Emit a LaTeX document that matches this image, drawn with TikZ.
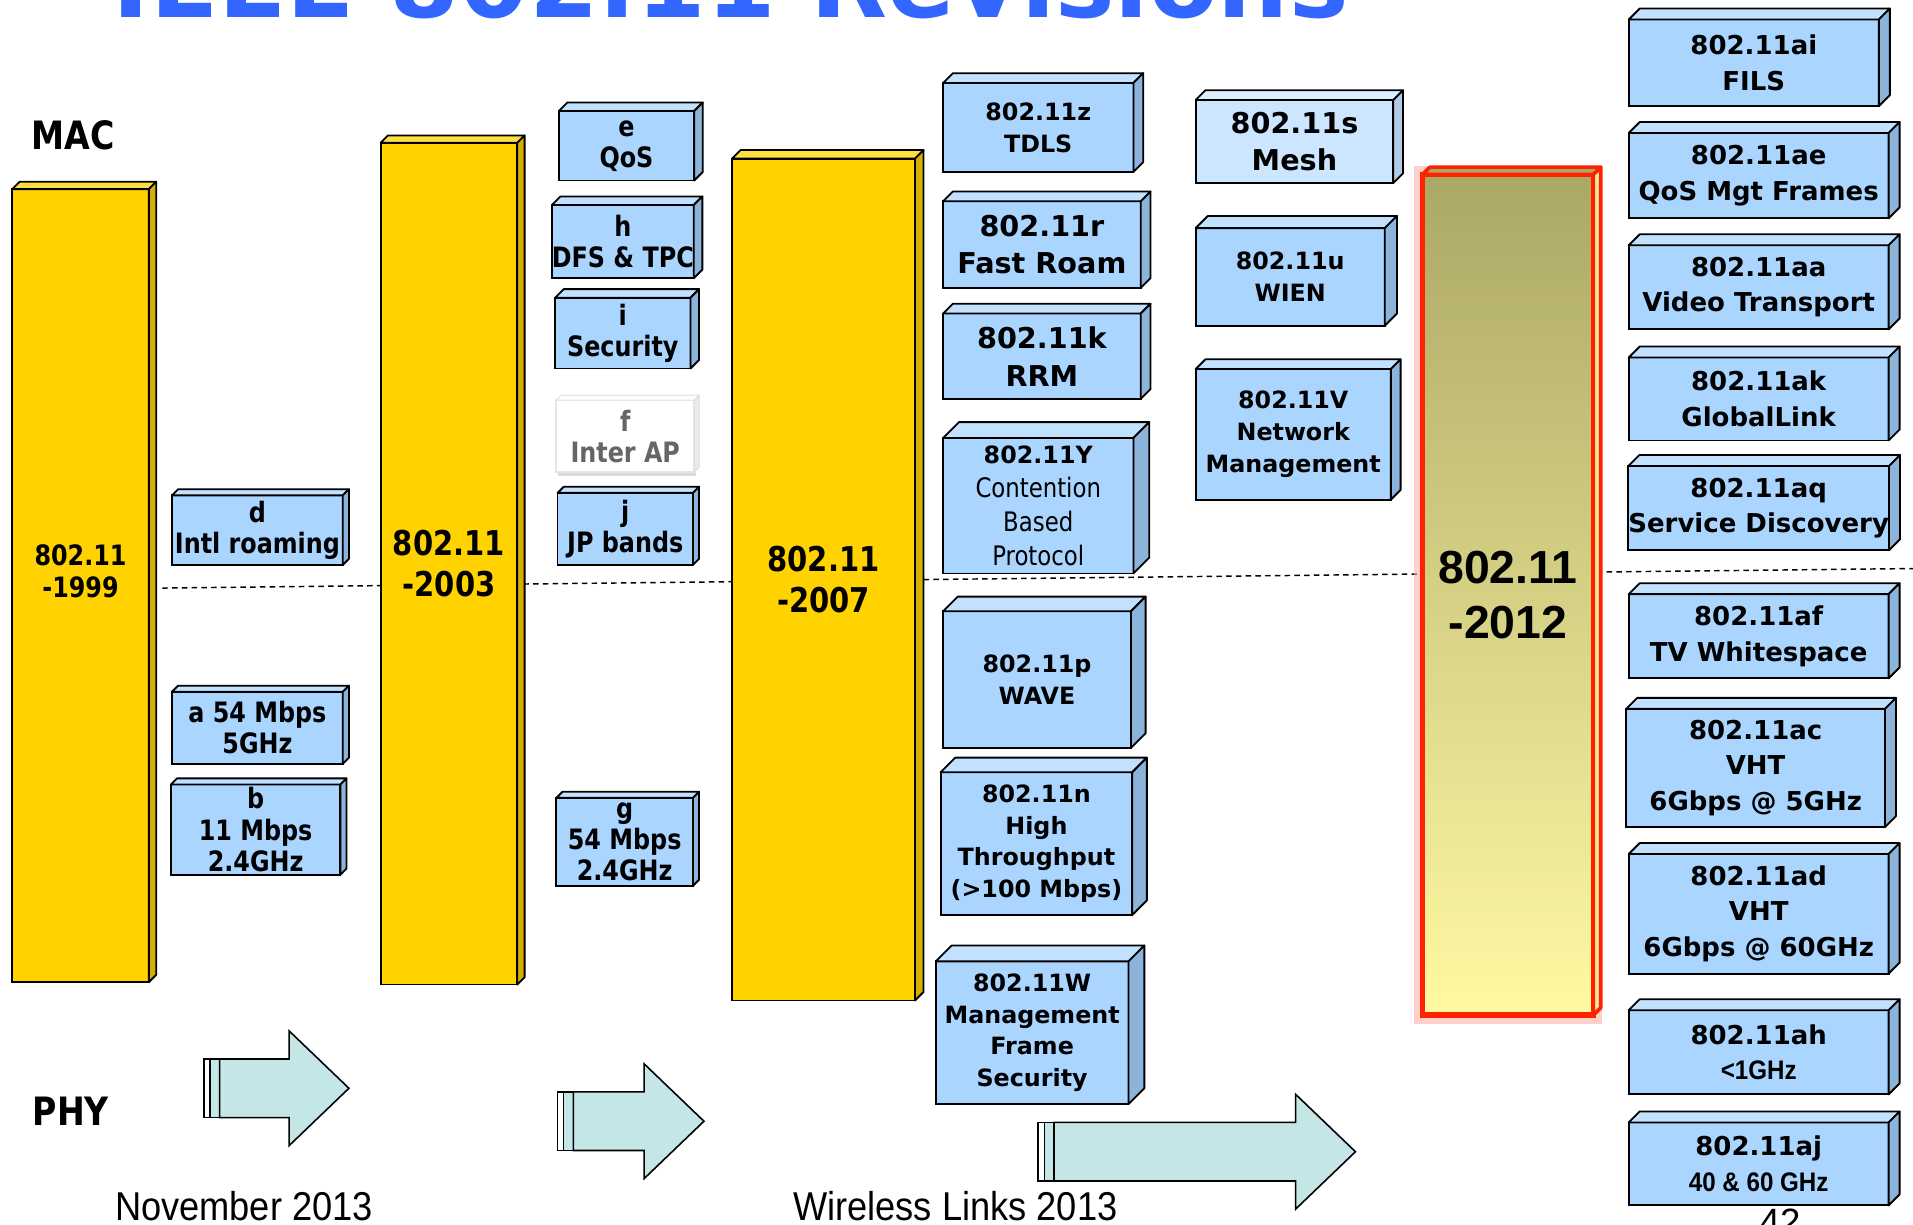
\documentclass[tikz,border=0pt]{standalone}
\usepackage{fontspec}
\newfontfamily\verd{DejaVu Sans}
\newfontfamily\tah{DejaVu Sans}[FakeStretch=0.85]
\newfontfamily\ari{Liberation Sans}
\newfontfamily\arin{Liberation Sans}[FakeStretch=0.9]
\usetikzlibrary{calc, shadows}

\definecolor{revblue}{HTML}{A9D5FF}
\definecolor{revtop}{HTML}{C2E1FF}
\definecolor{revside}{HTML}{8CB3D9}
\definecolor{meshblue}{HTML}{CCE6FF}
\definecolor{meshtop}{HTML}{DDEEFF}
\definecolor{meshside}{HTML}{B3CCE6}
\definecolor{gold}{HTML}{FFD200}
\definecolor{goldtop}{HTML}{FFDF40}
\definecolor{goldside}{HTML}{D4AE00}
\definecolor{hired}{HTML}{FF2200}
\definecolor{olive12}{HTML}{ABA865}
\definecolor{pale12}{HTML}{FFF9A3}
\definecolor{phycyan}{HTML}{C4E6E6}
\definecolor{titleblue}{HTML}{3366FF}

\newcommand{\slab}[3]{%
  \filldraw[#3topface] (#1.north west) -- ++(#2,-#2) -- ($(#1.north east)+(#2,-#2)$) -- (#1.north east) -- cycle;
  \filldraw[#3sideface] (#1.north east) -- ++(#2,-#2) -- ($(#1.south east)+(#2,-#2)$) -- (#1.south east) -- cycle;
}
\newcommand{\phyarrow}[4]{%
  \draw[phyedge, fill=white] (#1,#4-24) rectangle (#1+5,#4+24);
  \draw[phyedge] (#1+5,#4-24) rectangle (#1+13,#4+24);
  \draw[phyedge] (#1+13,#4-24) -- (#2,#4-24) -- (#2,#4-47) -- (#3,#4) -- (#2,#4+47) -- (#2,#4+24) -- (#1+13,#4+24) -- cycle;
}

\begin{document}
\begin{tikzpicture}[x=1pt, y=-1pt,
  sz/.style 2 args={minimum width=#1pt, minimum height=#2pt},
  rev/.style={draw, line width=1.5pt, fill=revblue, inner sep=0pt, outer sep=0pt, align=center},
  mesh/.style={rev, fill=meshblue},
  bar/.style={rev, fill=gold},
  pale/.style={rev, draw=black!10, fill=white, text=black!60,
    drop shadow={shadow xshift=1.5pt, shadow yshift=-3pt, opacity=0.3}},
  revtopface/.style={draw, line width=1.5pt, line join=round, fill=revtop},
  revsideface/.style={draw, line width=1.5pt, line join=round, fill=revside},
  meshtopface/.style={draw, line width=1.5pt, line join=round, fill=meshtop},
  meshsideface/.style={draw, line width=1.5pt, line join=round, fill=meshside},
  goldtopface/.style={draw, line width=1.5pt, line join=round, fill=goldtop},
  goldsideface/.style={draw, line width=1.5pt, line join=round, fill=goldside},
  paletopface/.style={draw=black!10, line width=1pt, fill=white},
  palesideface/.style={draw=black!12, line width=1pt, fill=black!8},
  redtopface/.style={draw=hired, line width=3pt, line join=round, fill=olive12},
  redsideface/.style={draw=hired, line width=3pt, line join=round, fill=pale12!80!olive12},
  bar12/.style={draw=hired, line width=4.5pt, top color=olive12, bottom color=pale12,
    inner sep=0pt, outer sep=0pt, align=center,
    preaction={draw=hired!35, line width=14pt, opacity=0.6},
    font=\ari\bfseries\fontsize{38}{45}\selectfont},
  phyedge/.style={draw, line width=1.3pt, fill=phycyan, line join=miter},
  dashline/.style={line width=1.2pt, dash pattern=on 4.5pt off 3.5pt},
  small/.style={font=\tah\bfseries\fontsize{23}{25.5}\selectfont},
  bartxt/.style={align=center, font=\tah\bfseries\fontsize{28}{33}\selectfont},
  mid/.style={font=\verd\bfseries\fontsize{19.5}{26}\selectfont},
  big/.style={font=\verd\bfseries\fontsize{23.5}{31}\selectfont},
  wide/.style={font=\verd\bfseries\fontsize{21.3}{29}\selectfont},
  layer/.style={font=\tah\bfseries\fontsize{32}{36}\selectfont},
  foot/.style={font=\arin\fontsize{33}{36}\selectfont, anchor=base}]

  \useasboundingbox (0,0) rectangle (1568,1004);

  \node[font=\verd\bfseries\fontsize{82}{90}\selectfont, text=titleblue, anchor=base] (title) at (599,14) {IEEE 802.11 Revisions};
  \node[layer] (mac) at (60,111) {MAC};
  \node[layer] (phy) at (58,911) {PHY};

  \coordinate (split-l) at (133,482);
  \coordinate (split-r) at (1568,466);
  \draw[dashline] (split-l) -- (split-r);

  \node[bar, sz={112}{650}] (y99) at (66,480) {};
  \slab{y99}{6}{gold}
  \node[bartxt, font=\tah\bfseries\fontsize{23}{26}\selectfont] (y99lab) at (66,468) {802.11\\-1999};
  \node[bar, bartxt, sz={112}{690}] (y03) at (368,462) {802.11\\-2003};
  \slab{y03}{6}{gold}
  \node[bar, bartxt, sz={150}{690}] (y07) at (675,475) {802.11\\-2007};
  \slab{y07}{7}{gold}
  \node[bar12, sz={140}{689}] (y12) at (1236,487.5) {802.11\\-2012};
  \slab{y12}{6}{red}

  \node[rev, small, sz={140}{57}] (d) at (211,434.5) {d\\Intl roaming};
  \slab{d}{5}{rev}
  \node[rev, small, sz={140}{59}] (a) at (211,596.5) {a 54 Mbps\\5GHz};
  \slab{a}{5}{rev}
  \node[rev, small, sz={139}{74}] (b) at (209.5,680) {b\\11 Mbps\\2.4GHz};
  \slab{b}{5}{rev}

  \node[rev, small, sz={111}{57}] (e) at (513.5,119.5) {e\\QoS};
  \slab{e}{7}{rev}
  \node[rev, small, sz={111}{60}] (h) at (510.5,198) {h\\DFS \& TPC};
  \slab{h}{7}{rev}
  \node[rev, small, sz={111}{58}] (i) at (510.5,273) {i\\Security};
  \slab{i}{7}{rev}
  \node[pale, small, sz={113}{59}] (f) at (512.5,357.5) {f\\Inter AP};
  \slab{f}{4}{pale}
  \node[rev, small, sz={111}{59}] (j) at (512.5,433.5) {j\\JP bands};
  \slab{j}{5}{rev}
  \node[rev, small, sz={112}{72}] (g) at (512,690) {g\\54 Mbps\\2.4GHz};
  \slab{g}{5}{rev}

  \node[rev, mid, sz={156}{73}] (z) at (851,104.5) {802.11z\\TDLS};
  \slab{z}{8}{rev}
  \node[rev, big, sz={162}{71}] (r) at (854,200.5) {802.11r\\Fast Roam};
  \slab{r}{8}{rev}
  \node[rev, big, sz={162}{70}] (k) at (854,292) {802.11k\\RRM};
  \slab{k}{8}{rev}
  \node[rev, sz={156}{111}, font=\tah\fontsize{22}{28}\selectfont] (Y) at (851,414.5)
    {{\verd\bfseries\fontsize{19.5}{28}\selectfont 802.11Y}\\Contention\\Based\\Protocol};
  \slab{Y}{13}{rev}
  \node[rev, mid, sz={154}{112}] (p) at (850,557) {802.11p\\WAVE};
  \slab{p}{12}{rev}
  \node[rev, mid, sz={157}{117}] (n) at (849.5,691.5) {802.11n\\High\\Throughput\\(>100 Mbps)};
  \slab{n}{12}{rev}
  \node[rev, mid, sz={158}{117}] (W) at (846,846.5) {802.11W\\Management\\Frame\\Security};
  \slab{W}{13}{rev}

  \node[mesh, big, sz={162}{68}] (s) at (1061,116) {802.11s\\Mesh};
  \slab{s}{8}{mesh}
  \node[rev, mid, sz={155}{80}] (u) at (1057.5,227) {802.11u\\WIEN};
  \slab{u}{10}{rev}
  \node[rev, mid, sz={160}{107}] (V) at (1060,356) {802.11V\\Network\\Management};
  \slab{V}{8}{rev}

  \node[font=\ari\fontsize{30}{34}\selectfont, anchor=base] (pageno) at (1459,1012) {42};

  \node[rev, wide, sz={205}{71}] (ai) at (1437.5,51.5) {802.11ai\\FILS};
  \slab{ai}{9}{rev}
  \node[rev, wide, sz={213}{70}] (ae) at (1441.5,144) {802.11ae\\QoS Mgt Frames};
  \slab{ae}{9}{rev}
  \node[rev, wide, sz={213}{69}] (aa) at (1441.5,235.5) {802.11aa\\Video Transport};
  \slab{aa}{9}{rev}
  \node[rev, wide, sz={213}{68}] (ak) at (1441.5,327) {802.11ak\\GlobalLink};
  \slab{ak}{9}{rev}
  \node[rev, wide, sz={213}{69}] (aq) at (1441.5,416.5) {802.11aq\\Service Discovery};
  \slab{aq}{9}{rev}
  \node[rev, wide, sz={213}{69}] (af) at (1441.5,521.5) {802.11af\\TV Whitespace};
  \slab{af}{9}{rev}
  \node[rev, wide, sz={212}{97}] (ac) at (1439,629.5) {802.11ac\\VHT\\6Gbps @ 5GHz};
  \slab{ac}{9}{rev}
  \node[rev, wide, sz={213}{98}] (ad) at (1441.5,749) {802.11ad\\VHT\\6Gbps @ 60GHz};
  \slab{ad}{9}{rev}
  \node[rev, wide, sz={213}{69}] (ah) at (1441.5,862.5)
    {802.11ah\\{\arin\fontsize{22}{29}\selectfont <1GHz}};
  \slab{ah}{9}{rev}
  \node[rev, wide, sz={213}{68}] (aj) at (1441.5,954)
    {802.11aj\\{\arin\fontsize{22}{29}\selectfont 40 \& 60 GHz}};
  \slab{aj}{9}{rev}

  \phyarrow{167}{237}{286}{892}
  \phyarrow{457}{528}{577}{919}
  \phyarrow{851}{1062}{1111}{944}

  \node[foot] (date) at (200,1000) {November 2013};
  \node[foot] (venue) at (783,1000) {Wireless Links 2013};
\end{tikzpicture}
\end{document}
